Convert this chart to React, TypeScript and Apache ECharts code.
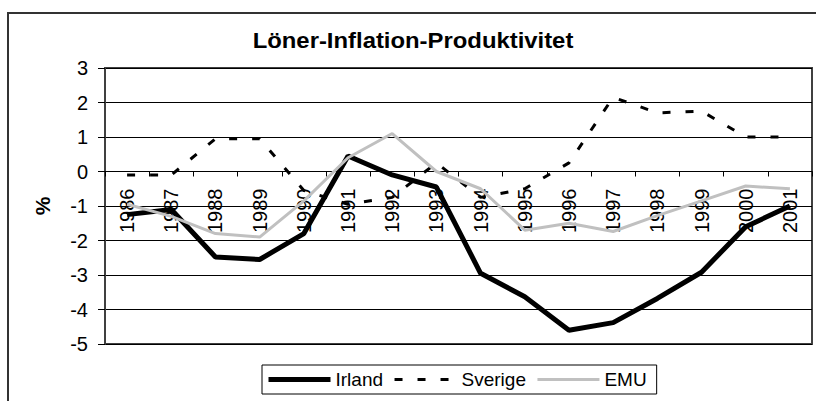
import React, { useEffect, useRef } from "react";
import * as echarts from "echarts";

const categories = ["1986", "1987", "1988", "1989", "1990", "1991", "1992", "1993", "1994", "1995", "1996", "1997", "1998", "1999", "2000", "2001"];
const irland = [-1.25, -1.1, -2.48, -2.55, -1.8, 0.45, -0.1, -0.45, -2.95, -3.63, -4.6, -4.38, -3.68, -2.92, -1.6, -1.0];
const sverige = [-0.1, -0.1, 0.95, 0.95, -0.55, -0.95, -0.75, 0.25, -0.75, -0.5, 0.25, 2.15, 1.7, 1.75, 1.0, 1.0];
const emu = [-0.95, -1.3, -1.8, -1.9, -0.85, 0.4, 1.1, 0.0, -0.5, -1.7, -1.5, -1.74, -1.28, -0.85, -0.42, -0.5];
const seriesNames = ["Irland", "Sverige", "EMU"];
const titleText = "Löner-Inflation-Produktivitet";
const yName = "%";
const yMin = -5;
const yMax = 3;

const FONT = '"Liberation Sans", Arial, sans-serif';

// plot geometry (pixels)
const GRID_TOP = 68;
const GRID_BOTTOM = 57;
const GRID_HEIGHT = 401 - GRID_TOP - GRID_BOTTOM;

const lineStyles = [
  { color: "#000", width: 5, type: "solid" as any },
  { color: "#000", width: 3, type: [8, 15] as any },
  { color: "#c0c0c0", width: 3, type: "solid" as any },
];

export default function App() {
  const ref = useRef<HTMLDivElement>(null);
  useEffect(() => {
    if (!ref.current) return;
    const chart = echarts.init(ref.current, undefined, { renderer: "svg" });
    // move the category axis up to the value 0 line
    const zeroOffset = -GRID_HEIGHT * ((0 - yMin) / (yMax - yMin));
    chart.setOption({
      animation: false,
      backgroundColor: "#ffffff",
      textStyle: { fontFamily: FONT, color: "#000" },
      graphic: [
        {
          type: "rect",
          shape: { x: 8, y: 13, width: 900, height: 500 },
          style: { fill: "none", stroke: "#333", lineWidth: 2 },
          silent: true,
        },
        {
          type: "text",
          x: 413,
          y: 40,
          scaleX: 1.085,
          style: {
            text: titleText,
            font: `bold 22px ${FONT}`,
            fill: "#000",
            textAlign: "center",
            textVerticalAlign: "middle",
          },
        },
      ],
      grid: {
        left: 105,
        top: GRID_TOP,
        right: 4,
        bottom: GRID_BOTTOM,
        show: true,
        borderColor: "#404040",
        borderWidth: 2,
        backgroundColor: "transparent",
      },
      legend: {
        left: 262,
        top: 365,
        data: seriesNames.map((name, i) => ({ name, lineStyle: { ...lineStyles[i] } })),
        itemWidth: 62,
        itemHeight: 14,
        itemGap: 10,
        padding: [5, 10, 5, 4],
        borderColor: "#000",
        borderWidth: 1,
        itemStyle: { opacity: 0 },
        textStyle: { fontFamily: FONT, fontSize: 19, color: "#000" },
      },
      xAxis: {
        type: "category",
        data: categories,
        boundaryGap: true,
        position: "bottom",
        offset: zeroOffset,
        axisLine: { show: true, onZero: false, lineStyle: { color: "#000", width: 1 } },
        axisTick: { show: true, length: 5, alignWithLabel: false, lineStyle: { color: "#000" } },
        axisLabel: { rotate: 90, margin: 17, fontSize: 20, color: "#000", fontFamily: FONT, interval: 0 },
        splitLine: { show: false },
      },
      yAxis: {
        type: "value",
        min: yMin,
        max: yMax,
        interval: 1,
        name: yName,
        nameLocation: "middle",
        nameRotate: 90,
        nameGap: 52,
        nameTextStyle: { fontSize: 21, fontWeight: "bold", color: "#000", fontFamily: FONT },
        axisLine: { show: true, lineStyle: { color: "#404040", width: 2 } },
        axisTick: { show: true, length: 7, lineStyle: { color: "#000" } },
        axisLabel: { margin: 17, fontSize: 20, color: "#000", fontFamily: FONT },
        splitLine: { show: true, lineStyle: { color: "#000", width: 1 } },
      },
      series: [
        {
          name: seriesNames[0],
          type: "line",
          data: irland,
          symbol: "none",
          lineStyle: { ...lineStyles[0] },
          itemStyle: { color: "#000" },
        },
        {
          name: seriesNames[1],
          type: "line",
          data: sverige,
          symbol: "none",
          lineStyle: { ...lineStyles[1] },
          itemStyle: { color: "#000" },
        },
        {
          name: seriesNames[2],
          type: "line",
          data: emu,
          symbol: "none",
          lineStyle: { ...lineStyles[2] },
          itemStyle: { color: "#c0c0c0" },
        },
      ],
    });
    return () => chart.dispose();
  }, []);
  return (
    <div
      ref={ref}
      style={{ position: "fixed", left: 0, top: 0, width: 816, height: 401, background: "#fff" }}
    />
  );
}
